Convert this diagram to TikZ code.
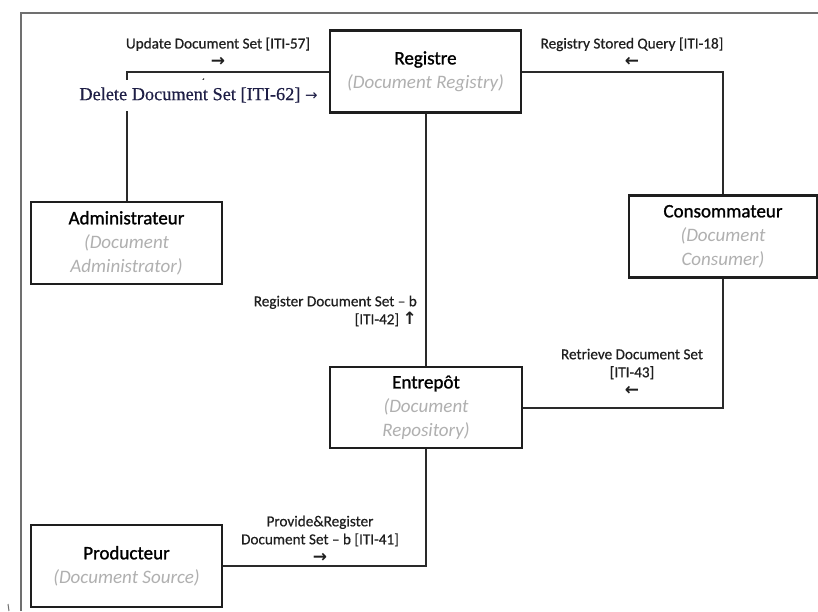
\documentclass[tikz,border=0pt]{standalone}
\usepackage{fontspec}
\setmainfont{Carlito}
\newfontfamily\labelfont{Carlito}[FakeBold=0.6]
\newfontfamily\titlefont{Carlito}[FakeBold=1.2]
\newfontfamily\delfont{Liberation Serif}[FakeBold=0.5]
\newfontfamily\arrowfont{DejaVu Sans}
\definecolor{boxline}{HTML}{1E1E1E}
\definecolor{wire}{HTML}{2A2A2A}
\definecolor{subgray}{HTML}{B0B0B0}
\definecolor{framegray}{HTML}{707070}
\definecolor{deltext}{HTML}{1E1E46}
\newcommand\roleen[1]{{\normalfont\fontsize{19}{24}\selectfont\color{subgray}\itshape #1}}
\newcommand\arr[1]{{\arrowfont\bfseries\fontsize{17}{18}\selectfont #1}}
\begin{document}
\begin{tikzpicture}[x=1pt,y=-1pt,
  actor/.style={draw=boxline, line width=2.6pt, fill=white, minimum width=191pt,
    minimum height=82pt, align=center, inner sep=0pt,
    font=\titlefont\fontsize{19}{24}\selectfont},
  wireline/.style={draw=wire, line width=2pt},
  flowlabel/.style={align=center, inner sep=1pt, text=black!88,
    font=\labelfont\fontsize{15.2}{18}\selectfont}]
\useasboundingbox (0,0) rectangle (818,611);

% page frame
\draw[framegray, line width=2pt] (21,611) -- (21,13) -- (818,13);
\draw[framegray, line width=1pt] (8,604) -- (9,611);

% actors
\node[actor] (reg)  at (425.5,71.5) {Registre\\\roleen{(Document Registry)}};
\node[actor] (adm)  at (126.5,243)  {Administrateur\\\roleen{(Document}\\\roleen{Administrator)}};
\node[actor, minimum width=188pt] (con) at (723,236.5) {Consommateur\\\roleen{(Document}\\\roleen{Consumer)}};
\node[actor, minimum width=192pt, minimum height=81pt] (ent) at (426,407.5) {Entrepôt\\\roleen{(Document}\\\roleen{Repository)}};
\node[actor] (prod) at (126.5,566)  {Producteur\\\roleen{(Document Source)}};

% transactions
\draw[wireline] (reg.west) -| (adm.north);
\draw[wireline] (reg.east) -| (con.north);
\draw[wireline] (reg.south) -- (reg.south |- ent.north);
\draw[wireline] (con.south) |- (ent.east);
\draw[wireline] (prod.east) -| (ent.south);
\draw[wire, line width=1pt] (201.5,82) -- (204,78.5);

% transaction labels
\node[flowlabel] (lupd) at (218,52) {Update Document Set [ITI-57]\\\arr{→}};
\node[fill=white, inner xsep=1pt, minimum height=31pt, text=deltext,
  font=\delfont\fontsize{18.3}{20}\selectfont] (ldel) at (198.5,95)
  {Delete Document Set [ITI-62] {\arrowfont\fontsize{15}{18}\selectfont →}};
\node[flowlabel] (lrsq) at (632,52) {Registry Stored Query [ITI-18]\\\arr{←}};
\node[flowlabel, align=right, anchor=east] (lreg) at (418,311)
  {Register Document Set – b\\{[ITI-42]} \arr{↑}};
\node[flowlabel] (lret) at (632,372) {Retrieve Document Set\\{[ITI-43]}\\\arr{←}};
\node[flowlabel] (lpnr) at (320,539) {Provide\&Register\\Document Set – b [ITI-41]\\\arr{→}};
\end{tikzpicture}
\end{document}
